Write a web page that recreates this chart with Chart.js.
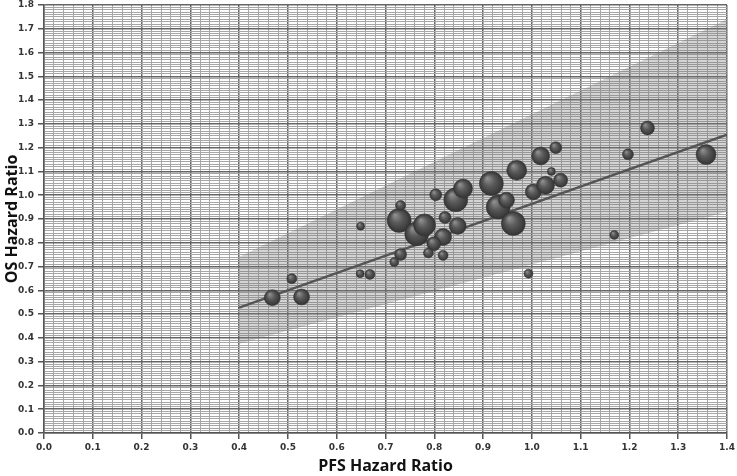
<!DOCTYPE html>
<html>
<head>
<meta charset="utf-8">
<script src="https://cdn.jsdelivr.net/npm/chart.js@4.4.1/dist/chart.umd.min.js"></script>
<style>
  html, body { margin: 0; padding: 0; background: #fff; }
  #wrap { width: 737px; height: 476px; }
</style>
</head>
<body>
<div id="wrap"><canvas id="hrChart"></canvas></div>
<script>
// trial data
const pfsHR = [0.468, 0.528, 0.508, 0.648, 0.668, 0.649, 0.728, 0.731, 0.764, 0.780,
               0.731, 0.718, 0.803, 0.844, 0.859, 0.822, 0.848, 0.818, 0.799, 0.788,
               0.818, 0.917, 0.969, 0.931, 0.948, 0.962, 1.003, 0.993, 1.018, 1.049,
               1.040, 1.059, 1.028, 1.197, 1.237, 1.357, 1.169];
const osHR = [0.569, 0.572, 0.649, 0.670, 0.667, 0.870, 0.894, 0.957, 0.838, 0.875,
              0.751, 0.719, 1.002, 0.981, 1.028, 0.906, 0.871, 0.824, 0.796, 0.757,
              0.747, 1.049, 1.105, 0.950, 0.979, 0.881, 1.014, 0.670, 1.165, 1.200,
              1.100, 1.063, 1.042, 1.172, 1.283, 1.171, 0.833];
const bubbleSize = [8, 8, 5, 4, 5, 4, 12, 5, 12, 11,
                    6, 4.5, 6, 12, 9.5, 6, 8.5, 8.5, 7, 5,
                    5, 12, 10, 12, 8, 12, 8, 4.5, 9, 6,
                    4, 7, 9, 5.5, 7, 10, 4.5];

// regression line and prediction band
const bandX = [0.4, 1.4];
const fitY = [0.527, 1.255];
const bandUpper = [0.74, 1.74];
const bandLower = [0.375, 0.93];

const isMajor = v => Math.abs(v * 10 - Math.round(v * 10)) < 1e-6;

function sphere(c) {
  const chart = c.chart;
  const p = c.raw;
  if (!p || !chart.chartArea) return '#555';
  const x = chart.scales.x.getPixelForValue(p.x);
  const y = chart.scales.y.getPixelForValue(p.y);
  const r = p.r;
  const g = chart.ctx.createRadialGradient(x - r * 0.35, y - r * 0.45, r * 0.05, x, y, r);
  g.addColorStop(0, '#8f8f8f');
  g.addColorStop(0.45, '#5a5a5a');
  g.addColorStop(1, '#333');
  return g;
}

const gridOpts = {
  color: c => isMajor(c.tick.value) ? '#666' : '#a6a6a6',
  lineWidth: c => isMajor(c.tick.value) ? 1.5 : 1,
  tickColor: c => isMajor(c.tick.value) ? '#555' : 'rgba(0,0,0,0)',
  tickLength: 6
};
const tickFont = { family: 'DejaVu Sans', size: 9, weight: 'bold' };
const titleFont = { family: 'Open Sans', size: 16, weight: 'bold' };

new Chart(document.getElementById('hrChart'), {
  type: 'bubble',
  data: {
    datasets: [
      {
        type: 'bubble',
        data: pfsHR.map((x, i) => ({ x: x, y: osHR[i], r: bubbleSize[i] })),
        backgroundColor: sphere,
        borderColor: '#333',
        borderWidth: 0.5,
        order: 0
      },
      {
        type: 'line',
        data: bandX.map((x, i) => ({ x: x, y: fitY[i] })),
        borderColor: '#555',
        borderWidth: 2.5,
        pointRadius: 0,
        fill: false,
        order: 1
      },
      {
        type: 'line',
        data: bandX.map((x, i) => ({ x: x, y: bandUpper[i] })),
        borderWidth: 0,
        borderColor: 'rgba(0,0,0,0)',
        backgroundColor: 'rgba(120,120,120,0.32)',
        pointRadius: 0,
        fill: '+1',
        order: 2
      },
      {
        type: 'line',
        data: bandX.map((x, i) => ({ x: x, y: bandLower[i] })),
        borderWidth: 0,
        borderColor: 'rgba(0,0,0,0)',
        pointRadius: 0,
        fill: false,
        order: 3
      }
    ]
  },
  options: {
    responsive: true,
    maintainAspectRatio: false,
    animation: false,
    devicePixelRatio: 1,
    layout: { autoPadding: false, padding: { top: 5, right: 10, left: 0, bottom: 0 } },
    plugins: {
      legend: { display: false },
      tooltip: { enabled: false }
    },
    scales: {
      x: {
        type: 'linear',
        min: 0,
        max: 1.4,
        afterFit: s => { s.height = 43; s.paddingLeft = 0; s.paddingRight = 0; },
        grid: gridOpts,
        border: { color: '#555', width: 1.5 },
        ticks: {
          stepSize: 0.02,
          autoSkip: false,
          maxRotation: 0,
          padding: 3,
          color: '#333',
          font: tickFont,
          callback: v => isMajor(v) ? v.toFixed(1) : ''
        },
        title: {
          display: true,
          text: 'PFS Hazard Ratio',
          color: '#111',
          font: titleFont,
          padding: { top: 0, bottom: 0 }
        }
      },
      y: {
        type: 'linear',
        min: 0,
        max: 1.8,
        afterFit: s => { s.width = 44; s.paddingTop = 0; s.paddingBottom = 0; },
        grid: gridOpts,
        border: { color: '#555', width: 1.5 },
        ticks: {
          stepSize: 0.01,
          autoSkip: false,
          padding: 4,
          color: '#333',
          font: tickFont,
          callback: v => isMajor(v) ? v.toFixed(1) : ''
        },
        title: {
          display: true,
          text: 'OS Hazard Ratio',
          color: '#111',
          font: titleFont,
          padding: { top: 3, bottom: 0 }
        }
      }
    }
  }
});
</script>
</body>
</html>
